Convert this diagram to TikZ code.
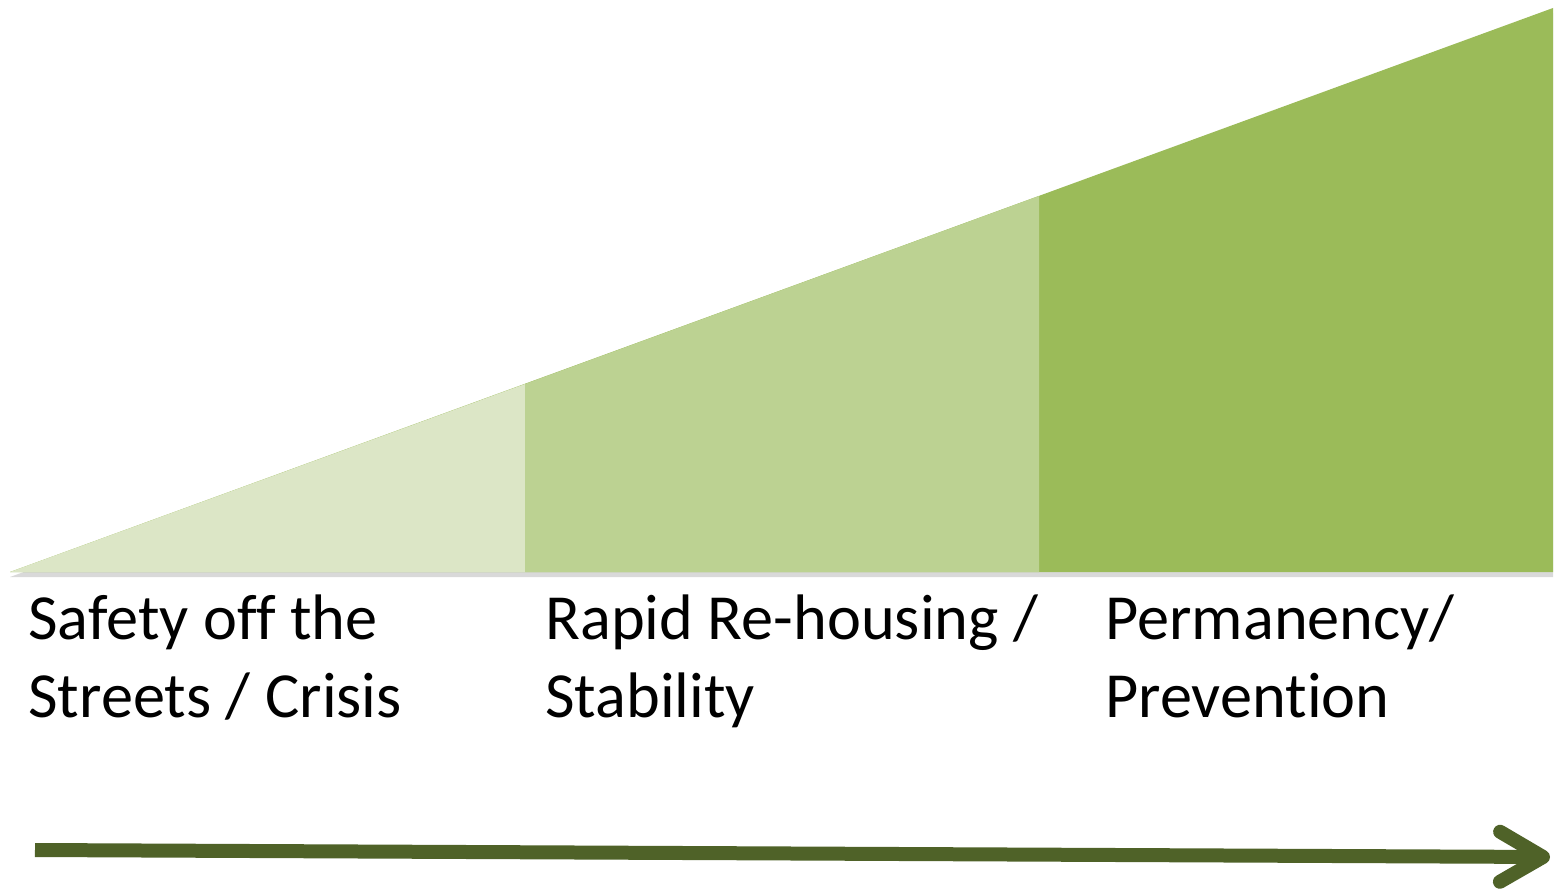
\documentclass[tikz,border=0pt]{standalone}
\usepackage{fontspec}
\setmainfont{Carlito}[Ligatures={NoCommon}]
\usepackage{tikz}
\usetikzlibrary{positioning,calc,arrows.meta,shadows}

\definecolor{stageone}{HTML}{DCE6C6}
\definecolor{stagetwo}{HTML}{BCD292}
\definecolor{stagethree}{HTML}{9BBB59}
\definecolor{arrowgreen}{HTML}{4F6228}

\tikzset{
  stagelabel/.style={anchor=base west, align=left, inner sep=0pt,
    font=\fontsize{36.6pt}{44pt}\selectfont},
  rampshadow/.style={drop shadow={shadow xshift=0pt, shadow yshift=-0.1cm, opacity=0.3}}
}

\begin{document}
\begin{tikzpicture}
      \useasboundingbox (0,0) rectangle (31.1,17.86);

      % the rising ramp, split in three stages
      \fill[stagethree, rampshadow] (0.2,6.42) -- (31.06,17.7) -- (31.06,6.42) -- cycle;
      \fill[stageone] (0.2,6.42) -- (10.5,10.18) -- (10.5,6.42) -- cycle;
      \fill[stagetwo] (10.5,6.42) -- (10.5,10.18) -- (20.78,13.94) -- (20.78,6.42) -- cycle;

      \node[stagelabel] (crisis) at (0.56,3.52) {Safety off the\\Streets / Crisis};
      \node[stagelabel] (rehousing) at (10.9,3.52) {Rapid Re-housing /\\Stability};
      \node[stagelabel] (prevention) at (22.1,3.52) {Permanency/\\Prevention};

      \coordinate (start) at (0.7,0.86);
      \coordinate (end) at (31.0,0.72);
      \draw[arrowgreen, line width=0.28cm,
        -{Straight Barb[length=0.86cm, width=1.0cm, line cap=round, line join=round]}]
        (start) -- (end);
    \end{tikzpicture}
\end{document}
